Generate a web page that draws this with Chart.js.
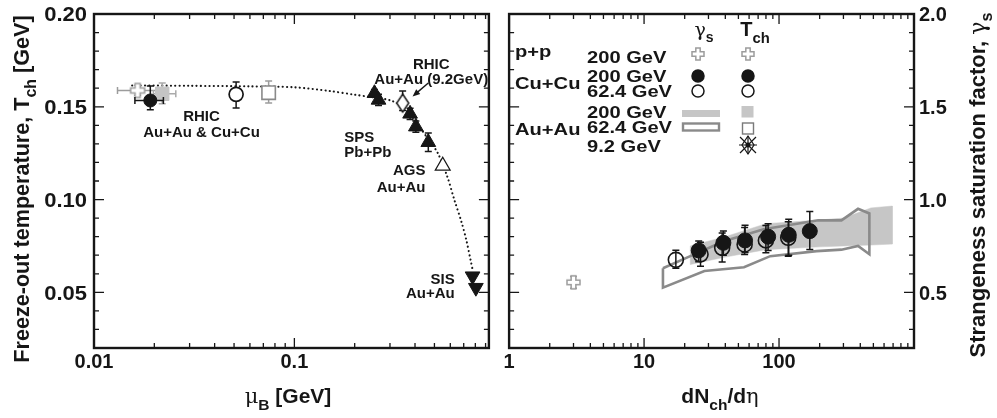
<!DOCTYPE html>
<html lang="en">
<head>
<meta charset="UTF-8">
<title>Freeze-out parameters</title>
<style>
  html, body { margin: 0; padding: 0; background: #fff; }
  #wrap { position: relative; width: 997px; height: 418px; }
  #cLeft { position: absolute; left: 0; top: 0; }
  #cRight { position: absolute; left: 500px; top: 0; }
</style>
</head>
<body>
<div id="wrap">
  <canvas id="cLeft" width="500" height="418"></canvas>
  <canvas id="cRight" width="497" height="418"></canvas>
</div>

<script src="https://cdn.jsdelivr.net/npm/chart.js"></script>
<script>
// ---------- left panel: T_ch vs mu_B ----------
const muTicks = [0.01, 0.1];
const muTickText = ['0.01', '0.1'];
const tchTicks = [0.05, 0.10, 0.15, 0.20];
const tchTickText = ['0.05', '0.10', '0.15', '0.20'];

const ppMu = [0.0165], ppT = [0.1588], ppTLo = [0.1562], ppTHi = [0.1616], ppMuLo = [0.0131], ppMuHi = [0.0205];
const cu200Mu = [0.0191], cu200T = [0.1534], cu200TLo = [0.1484], cu200THi = [0.1612], cu200MuLo = [0.0160], cu200MuHi = [0.0222];
const au200Mu = [0.0219], au200T = [0.1570], au200TLo = [0.1516], au200THi = [0.1628], au200MuLo = [0.0198], au200MuHi = [0.0256];
const cu62Mu = [0.0512], cu62T = [0.1567], cu62TLo = [0.1493], cu62THi = [0.1633];
const au62Mu = [0.0744], au62T = [0.1576], au62TLo = [0.1520], au62THi = [0.1639];
const au9Mu = [0.347], au9T = [0.1520], au9TLo = [0.1480], au9THi = [0.1585];
const spsMu = [0.251, 0.263, 0.378, 0.404, 0.466];
const spsT = [0.1573, 0.1537, 0.1462, 0.1393, 0.1309];
const spsTErr = [0.002, 0.003, 0.003, 0.003, 0.005];
const agsMu = [0.55], agsT = [0.1182];
const sisMu = [0.775, 0.805], sisT = [0.0587, 0.0525];
// dotted freeze-out curve
const curveMu = [0.0155, 0.03, 0.06, 0.1, 0.15, 0.2, 0.25, 0.3, 0.35, 0.4, 0.466, 0.52, 0.577, 0.632, 0.682, 0.722, 0.759, 0.78];
const curveT = [0.1615, 0.1613, 0.161, 0.1605, 0.1585, 0.1565, 0.155, 0.1535, 0.150, 0.1425, 0.1325, 0.125, 0.113, 0.099, 0.088, 0.078, 0.067, 0.061];

// ---------- right panel: gamma_s vs dNch/deta ----------
const dnTicks = [1, 10, 100];
const dnTickText = ['1', '10', '100'];
const gsTicks = [0.5, 1.0, 1.5, 2.0];
const gsTickText = ['0.5', '1.0', '1.5', '2.0'];

const ppDn = [3.0], ppGs = [0.554], ppGsLo = [0.522], ppGsHi = [0.585];
const cu200Dn = [25.4, 38.7, 56, 83, 118, 169];
const cu200Gs = [0.726, 0.767, 0.780, 0.800, 0.810, 0.830];
const cu200GsLo = [0.665, 0.700, 0.715, 0.725, 0.700, 0.731];
const cu200GsHi = [0.776, 0.830, 0.861, 0.870, 0.894, 0.935];
const cu62Dn = [17.2, 26.2, 37.9, 55.6, 79.9, 117];
const cu62Gs = [0.675, 0.705, 0.740, 0.758, 0.780, 0.794];
const cu62GsLo = [0.630, 0.641, 0.664, 0.704, 0.713, 0.695];
const cu62GsHi = [0.727, 0.770, 0.820, 0.850, 0.860, 0.880];
const au200BandDn = [22, 40, 80, 200, 300, 480, 690];
const au200BandHi = [0.75, 0.80, 0.87, 0.89, 0.90, 0.955, 0.965];
const au200BandLo = [0.65, 0.69, 0.73, 0.745, 0.75, 0.755, 0.76];
const au62HiDn = [13.8, 22, 39, 77, 195, 290, 385, 467];
const au62Hi = [0.630, 0.695, 0.775, 0.840, 0.888, 0.888, 0.950, 0.925];
const au62LoDn = [13.8, 28, 55, 86, 190, 290, 385, 467];
const au62Lo = [0.525, 0.615, 0.635, 0.695, 0.722, 0.730, 0.750, 0.705];

const legendSystems = ['p+p', 'Cu+Cu', 'Au+Au'];
const legendEnergies = ['200 GeV', '200 GeV', '62.4 GeV', '200 GeV', '62.4 GeV', '9.2 GeV'];

const INK = '#161616', GRAY = '#9c9c9c', DARKGRAY = '#8a8a8a', BAND = '#c6c6c6';

// build {x,y} points with optional error ranges
function pts(xs, ys, lo, hi, xlo, xhi) {
  return xs.map((x, i) => ({
    x, y: ys[i],
    yLo: lo ? lo[i] : null, yHi: hi ? hi[i] : null,
    xLo: xlo ? xlo[i] : null, xHi: xhi ? xhi[i] : null
  }));
}
// closed polygon: upper edge left->right, lower edge right->left
function poly(ux, uy, lx, ly) {
  const p = ux.map((x, i) => ({x, y: uy[i]}));
  for (let i = lx.length - 1; i >= 0; i--) p.push({x: lx[i], y: ly[i]});
  p.push({x: ux[0], y: uy[0]});
  return p;
}

// marker sprites
function crossSprite(s, color) {
  const c = document.createElement('canvas');
  c.width = c.height = s + 4;
  const g = c.getContext('2d'), m = (s + 4) / 2, a = s / 2, b = s / 5.5;
  g.beginPath();
  g.moveTo(m - b, m - a); g.lineTo(m + b, m - a); g.lineTo(m + b, m - b); g.lineTo(m + a, m - b);
  g.lineTo(m + a, m + b); g.lineTo(m + b, m + b); g.lineTo(m + b, m + a); g.lineTo(m - b, m + a);
  g.lineTo(m - b, m + b); g.lineTo(m - a, m + b); g.lineTo(m - a, m - b); g.lineTo(m - b, m - b);
  g.closePath();
  g.fillStyle = '#fff'; g.fill();
  g.lineWidth = 1.5; g.strokeStyle = color; g.stroke();
  return c;
}
function diamondSprite(w, h, color) {
  const c = document.createElement('canvas');
  c.width = w + 4; c.height = h + 4;
  const g = c.getContext('2d'), mx = c.width / 2, my = c.height / 2;
  g.beginPath();
  g.moveTo(mx, my - h / 2); g.lineTo(mx + w / 2, my); g.lineTo(mx, my + h / 2); g.lineTo(mx - w / 2, my);
  g.closePath();
  g.fillStyle = '#fff'; g.fill();
  g.lineWidth = 1.5; g.strokeStyle = color; g.stroke();
  return c;
}

// text with subscripts / greek, optional rotation and horizontal stretch; y = cap centre
function rich(ctx, segs, x, y, o) {
  const size = o.size, sx = o.sx || 1;
  const items = segs.map(s => typeof s === 'string' ? {t: s} : Object.assign({}, s));
  ctx.save();
  ctx.translate(x, y);
  if (o.rot) ctx.rotate(o.rot);
  let total = 0;
  items.forEach(s => {
    const fs = s.sub ? size * 0.74 : size;
    s.font = (s.g ? '' : 'bold ') + fs + 'px ' + (s.g ? '"DejaVu Serif", serif' : '"Liberation Sans", Arial, sans-serif');
    ctx.font = s.font;
    s.w = ctx.measureText(s.t).width * sx;
    total += s.w;
  });
  let cx = o.align === 'right' ? -total : o.align === 'left' ? 0 : -total / 2;
  ctx.fillStyle = o.color || INK;
  ctx.textBaseline = 'alphabetic';
  ctx.textAlign = 'left';
  const base = size * 0.36;
  items.forEach(s => {
    ctx.save();
    ctx.translate(cx, base + (s.sub ? size * 0.34 : 0));
    ctx.scale(sx, 1);
    ctx.font = s.font;
    ctx.fillText(s.t, 0, 0);
    ctx.restore();
    cx += s.w;
  });
  ctx.restore();
}

// frame with inward ticks on all four sides
function drawFrame(chart, yStep, yMajor) {
  const {ctx, chartArea: a, scales: {x, y}} = chart;
  ctx.save();
  ctx.strokeStyle = INK;
  ctx.lineWidth = 1.3;
  ctx.beginPath();
  const e0 = Math.floor(Math.log10(x.min)), e1 = Math.ceil(Math.log10(x.max));
  for (let e = e0; e <= e1; e++) {
    for (let k = 1; k <= 9; k++) {
      const v = k * Math.pow(10, e);
      if (v < x.min * 0.999 || v > x.max * 1.001) continue;
      const px = x.getPixelForValue(v), len = k === 1 ? 10 : 5;
      ctx.moveTo(px, a.bottom); ctx.lineTo(px, a.bottom - len);
      ctx.moveTo(px, a.top); ctx.lineTo(px, a.top + len);
    }
  }
  const n = Math.round((y.max - y.min) / yStep);
  for (let i = 0; i <= n; i++) {
    const v = y.min + i * yStep;
    const r = v / yMajor, major = Math.abs(r - Math.round(r)) < 1e-6;
    const py = y.getPixelForValue(v), len = major ? 10 : 5;
    ctx.moveTo(a.left, py); ctx.lineTo(a.left + len, py);
    ctx.moveTo(a.right, py); ctx.lineTo(a.right - len, py);
  }
  ctx.stroke();
  ctx.lineWidth = 2.4;
  ctx.strokeRect(a.left, a.top, a.right - a.left, a.bottom - a.top);
  ctx.restore();
}

const errorBars = {
  id: 'errorBars',
  beforeDatasetDraw(chart, args) {
    const ds = chart.data.datasets[args.index];
    if (!ds.errColor) return;
    const {ctx, scales: {x, y}} = chart;
    const c = 3.5;
    ctx.save();
    ctx.strokeStyle = ds.errColor;
    ctx.lineWidth = 1.5;
    ctx.beginPath();
    ds.data.forEach(p => {
      const px = x.getPixelForValue(p.x), py = y.getPixelForValue(p.y);
      if (p.yLo != null) {
        const lo = y.getPixelForValue(p.yLo), hi = y.getPixelForValue(p.yHi);
        ctx.moveTo(px, lo); ctx.lineTo(px, hi);
        ctx.moveTo(px - c, lo); ctx.lineTo(px + c, lo);
        ctx.moveTo(px - c, hi); ctx.lineTo(px + c, hi);
      }
      if (p.xLo != null) {
        const lo = x.getPixelForValue(p.xLo), hi = x.getPixelForValue(p.xHi);
        ctx.moveTo(lo, py); ctx.lineTo(hi, py);
        ctx.moveTo(lo, py - c); ctx.lineTo(lo, py + c);
        ctx.moveTo(hi, py - c); ctx.lineTo(hi, py + c);
      }
    });
    ctx.stroke();
    ctx.restore();
  }
};

function baseOptions(xMin, xMax, yMin, yMax, pad) {
  return {
    responsive: false,
    animation: false,
    devicePixelRatio: 1,
    events: [],
    layout: { padding: pad },
    plugins: { legend: { display: false }, tooltip: { enabled: false } },
    scales: {
      x: { type: 'logarithmic', min: xMin, max: xMax, display: false },
      y: { type: 'linear', min: yMin, max: yMax, display: false }
    }
  };
}

// ---------------- left chart ----------------
const leftDecor = {
  id: 'leftDecor',
  afterDraw(chart) {
    const {ctx, chartArea: a, scales: {x, y}} = chart;
    drawFrame(chart, 0.01, 0.05);
    tchTicks.forEach((v, i) => rich(ctx, [tchTickText[i]], a.left - 7, y.getPixelForValue(v), {size: 20, sx: 1.1, align: 'right'}));
    muTicks.forEach((v, i) => rich(ctx, [muTickText[i]], x.getPixelForValue(v), 361, {size: 20}));
    rich(ctx, ['Freeze-out temperature, T', {t: 'ch', sub: 1}, ' [GeV]'], 21, 189, {size: 21.6, rot: -Math.PI / 2});
    rich(ctx, [{t: 'μ', g: 1}, {t: 'B', sub: 1}, ' [GeV]'], 288, 395, {size: 21});

    const at = (mu, t) => [x.getPixelForValue(mu), y.getPixelForValue(t)];
    const note = (s, mu, t, align) => { const [px, py] = at(mu, t); rich(ctx, [s], px, py, {size: 15, align}); };
    note('RHIC', 0.0344, 0.1450, 'center');
    note('Au+Au & Cu+Cu', 0.0344, 0.1366, 'center');
    note('RHIC', 0.482, 0.1735, 'center');
    note('Au+Au (9.2GeV)', 0.482, 0.1653, 'center');
    note('SPS', 0.1774, 0.1339, 'left');
    note('Pb+Pb', 0.1774, 0.1258, 'left');
    note('AGS', 0.451, 0.1161, 'right');
    note('Au+Au', 0.451, 0.1069, 'right');
    note('SIS', 0.631, 0.0576, 'right');
    note('Au+Au', 0.631, 0.0500, 'right');

    // arrow to the 9.2 GeV point
    const [tx, ty] = at(0.466, 0.1628), [hx, hy] = at(0.389, 0.1556);
    const ang = Math.atan2(hy - ty, hx - tx);
    ctx.save();
    ctx.strokeStyle = INK; ctx.fillStyle = INK; ctx.lineWidth = 1.4;
    ctx.beginPath(); ctx.moveTo(tx, ty); ctx.lineTo(hx - 5 * Math.cos(ang), hy - 5 * Math.sin(ang)); ctx.stroke();
    ctx.beginPath();
    ctx.moveTo(hx, hy);
    ctx.lineTo(hx - 8 * Math.cos(ang - 0.4), hy - 8 * Math.sin(ang - 0.4));
    ctx.lineTo(hx - 8 * Math.cos(ang + 0.4), hy - 8 * Math.sin(ang + 0.4));
    ctx.closePath(); ctx.fill();
    ctx.restore();
  }
};

new Chart(document.getElementById('cLeft'), {
  type: 'scatter',
  data: {
    datasets: [
      { data: pts(curveMu, curveT), showLine: true, pointRadius: 0, borderColor: INK, borderWidth: 2.1,
        borderDash: [0.1, 4.2], borderCapStyle: 'round', tension: 0.3, order: 9 },
      { data: pts(ppMu, ppT, ppTLo, ppTHi, ppMuLo, ppMuHi), errColor: GRAY, pointStyle: crossSprite(14, GRAY), order: 6 },
      { data: pts(au200Mu, au200T, au200TLo, au200THi, au200MuLo, au200MuHi), errColor: '#aaaaaa', pointStyle: 'rect',
        pointRadius: 9.5, backgroundColor: '#c4c4c4', borderColor: '#c4c4c4', order: 5 },
      { data: pts(cu200Mu, cu200T, cu200TLo, cu200THi, cu200MuLo, cu200MuHi), errColor: INK, pointStyle: 'circle',
        pointRadius: 6.5, backgroundColor: INK, borderColor: INK, order: 4 },
      { data: pts(cu62Mu, cu62T, cu62TLo, cu62THi), errColor: INK, pointStyle: 'circle', pointRadius: 7,
        backgroundColor: '#fff', borderColor: INK, pointBorderWidth: 1.7, order: 4 },
      { data: pts(au62Mu, au62T, au62TLo, au62THi), errColor: GRAY, pointStyle: 'rect', pointRadius: 9.5,
        backgroundColor: '#fff', borderColor: DARKGRAY, pointBorderWidth: 1.6, order: 4 },
      { data: pts(au9Mu, au9T, au9TLo, au9THi), errColor: INK, pointStyle: diamondSprite(12, 18, INK), order: 3 },
      { data: pts(spsMu, spsT, spsT.map((t, i) => t - spsTErr[i]), spsT.map((t, i) => t + spsTErr[i])), errColor: INK,
        pointStyle: 'triangle', pointRadius: 8.5, backgroundColor: INK, borderColor: INK, order: 2 },
      { data: pts(agsMu, agsT), pointStyle: 'triangle', pointRadius: 8.5, backgroundColor: '#fff', borderColor: INK,
        pointBorderWidth: 1.3, order: 2 },
      { data: pts(sisMu, sisT), pointStyle: 'triangle', rotation: 180, pointRadius: 8.5, backgroundColor: INK,
        borderColor: INK, order: 2 }
    ]
  },
  options: baseOptions(0.01, 0.935, 0.02, 0.20, {left: 94, right: 2, top: 14, bottom: 70}),
  plugins: [errorBars, leftDecor]
});

// ---------------- right chart ----------------
function legendCircle(ctx, cx, cy, r, filled) {
  ctx.beginPath(); ctx.arc(cx, cy, r, 0, Math.PI * 2);
  ctx.fillStyle = filled ? INK : '#fff'; ctx.fill();
  ctx.lineWidth = 1.5; ctx.strokeStyle = INK; ctx.stroke();
}

const rightDecor = {
  id: 'rightDecor',
  afterDraw(chart) {
    const {ctx, chartArea: a, scales: {x, y}} = chart;
    drawFrame(chart, 0.1, 0.5);
    gsTicks.forEach((v, i) => rich(ctx, [gsTickText[i]], a.right + 5, y.getPixelForValue(v), {size: 20, align: 'left'}));
    dnTicks.forEach((v, i) => rich(ctx, [dnTickText[i]], x.getPixelForValue(v), 361, {size: 20}));
    rich(ctx, ['dN', {t: 'ch', sub: 1}, '/d', {t: 'η', g: 1}], 220, 395, {size: 21});
    rich(ctx, ['Strangeness saturation factor, ', {t: 'γ', g: 1}, {t: 's', sub: 1}], 477, 185, {size: 22, rot: -Math.PI / 2});

    // legend
    const L = {size: 16.5, sx: 1.22, align: 'left'};
    rich(ctx, [legendSystems[0]], 15, 51, L);
    rich(ctx, [legendSystems[1]], 15, 83, L);
    rich(ctx, [legendSystems[2]], 15, 129.5, L);
    const rowY = [57.5, 76, 91, 112, 127.5, 146];
    legendEnergies.forEach((s, i) => rich(ctx, [s], 87, rowY[i], L));
    rich(ctx, [{t: 'γ', g: 1}, {t: 's', sub: 1}], 204, 29, {size: 19});
    rich(ctx, ['T', {t: 'ch', sub: 1}], 255, 29, {size: 20});

    const gx = 198, tx = 248;
    const cr = crossSprite(12, GRAY);
    ctx.drawImage(cr, gx - cr.width / 2, 54 - cr.height / 2);
    ctx.drawImage(cr, tx - cr.width / 2, 54 - cr.height / 2);
    legendCircle(ctx, gx, 76, 6, true); legendCircle(ctx, tx, 76, 6, true);
    legendCircle(ctx, gx, 91, 6, false); legendCircle(ctx, tx, 91, 6, false);
    ctx.fillStyle = BAND; ctx.fillRect(182, 110, 38, 7);
    ctx.fillRect(241.5, 106, 12, 11.5);
    ctx.lineWidth = 2.4; ctx.strokeStyle = DARKGRAY; ctx.strokeRect(183, 123.5, 36, 7);
    ctx.lineWidth = 1.4; ctx.strokeStyle = '#7a7a7a'; ctx.strokeRect(242.5, 123, 11, 11);
    // 9.2 GeV star
    ctx.save();
    ctx.translate(tx, 145);
    ctx.strokeStyle = INK; ctx.lineWidth = 1.2;
    ctx.beginPath(); ctx.moveTo(0, -9); ctx.lineTo(6, 0); ctx.lineTo(0, 9); ctx.lineTo(-6, 0); ctx.closePath(); ctx.stroke();
    ctx.beginPath();
    ctx.moveTo(0, -9); ctx.lineTo(0, 9); ctx.moveTo(-9, 0); ctx.lineTo(9, 0);
    ctx.moveTo(-8, -8); ctx.lineTo(8, 8); ctx.moveTo(-8, 8); ctx.lineTo(8, -8);
    ctx.stroke();
    ctx.beginPath(); ctx.arc(0, 0, 2.5, 0, Math.PI * 2); ctx.fillStyle = INK; ctx.fill();
    ctx.restore();
  }
};

new Chart(document.getElementById('cRight'), {
  type: 'scatter',
  data: {
    datasets: [
      { data: pts(cu200Dn, cu200Gs, cu200GsLo, cu200GsHi), errColor: INK, pointStyle: 'circle', pointRadius: 7.5,
        backgroundColor: INK, borderColor: INK, order: 0 },
      { data: pts(cu62Dn, cu62Gs, cu62GsLo, cu62GsHi), errColor: INK, pointStyle: 'circle', pointRadius: 7.5,
        backgroundColor: 'rgba(255,255,255,0)', borderColor: INK, pointBorderWidth: 1.6, order: 1 },
      { data: pts(ppDn, ppGs, ppGsLo, ppGsHi), errColor: GRAY, pointStyle: crossSprite(13, GRAY), order: 1 },
      { data: poly(au62HiDn, au62Hi, au62LoDn, au62Lo), showLine: true, pointRadius: 0, borderColor: DARKGRAY,
        borderWidth: 2.6, borderJoinStyle: 'miter', fill: false, tension: 0, order: 2 },
      { data: poly(au200BandDn, au200BandHi, au200BandDn, au200BandLo), showLine: true, pointRadius: 0,
        borderColor: BAND, borderWidth: 0.5, backgroundColor: BAND, fill: 'shape', tension: 0, order: 3 }
    ]
  },
  options: baseOptions(1, 1000, 0.2, 2.0, {left: 7, right: 83, top: 14, bottom: 70}),
  plugins: [errorBars, rightDecor]
});
</script>
</body>
</html>
